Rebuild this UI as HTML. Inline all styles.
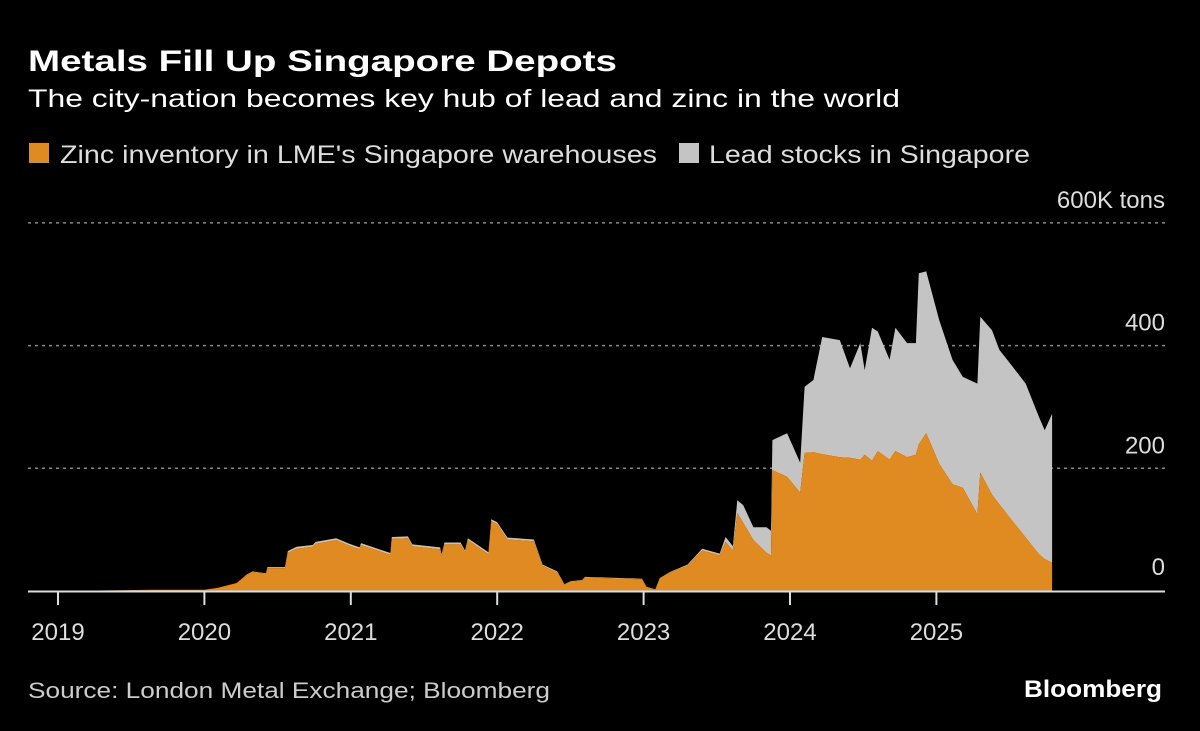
<!DOCTYPE html>
<html><head><meta charset="utf-8"><style>
html,body{margin:0;padding:0;background:#000;}
svg{display:block;font-family:"Liberation Sans",sans-serif;}
</style></head><body>
<svg id="chart" width="1200" height="731" viewBox="0 0 1200 731">
<rect width="1200" height="731" fill="#000"/>
<text x="28" y="71" fill="#fff" font-size="30" font-weight="bold" textLength="589" lengthAdjust="spacingAndGlyphs">Metals Fill Up Singapore Depots</text>
<text x="28" y="107" fill="#fff" font-size="25" textLength="872" lengthAdjust="spacingAndGlyphs">The city-nation becomes key hub of lead and zinc in the world</text>
<g>
<rect x="29" y="143" width="20" height="20" fill="#E08B22"/>
<text x="60" y="163" fill="#ddd" font-size="25" textLength="597" lengthAdjust="spacingAndGlyphs">Zinc inventory in LME's Singapore warehouses</text>
<rect x="679" y="143" width="20" height="20" fill="#C4C4C4"/>
<text x="709" y="163" fill="#ddd" font-size="25" textLength="321" lengthAdjust="spacingAndGlyphs">Lead stocks in Singapore</text>
</g>
<g id="grid"></g>
<g id="areas"></g>
<g id="axis"></g>
<text x="28" y="698" fill="#ccc" font-size="22" textLength="522" lengthAdjust="spacingAndGlyphs">Source: London Metal Exchange; Bloomberg</text>
<text x="1162" y="697" fill="#fff" font-size="24" font-weight="bold" text-anchor="end" textLength="138" lengthAdjust="spacingAndGlyphs">Bloomberg</text>
</svg>
<script>
const dates=[2019.0,2019.65,2020.0,2020.09,2020.22,2020.29,2020.33,2020.42,2020.43,2020.55,2020.57,2020.63,2020.74,2020.76,2020.9,2020.99,2021.06,2021.07,2021.27,2021.28,2021.39,2021.42,2021.61,2021.62,2021.64,2021.75,2021.78,2021.8,2021.94,2021.96,2022.0,2022.07,2022.25,2022.31,2022.41,2022.46,2022.5,2022.58,2022.6,2022.99,2023.02,2023.08,2023.11,2023.18,2023.3,2023.4,2023.52,2023.56,2023.61,2023.64,2023.68,2023.75,2023.84,2023.87,2023.88,2023.98,2024.07,2024.1,2024.16,2024.22,2024.34,2024.41,2024.48,2024.51,2024.56,2024.6,2024.68,2024.72,2024.8,2024.86,2024.88,2024.93,2025.02,2025.11,2025.18,2025.28,2025.3,2025.38,2025.43,2025.52,2025.61,2025.7,2025.74,2025.79];
const zinc=[0,2,2,5,13,26,31,28,37,37,62,69,72,77,83,74,68,75,59,85,86,73,68,57,76,76,63,83,60,114,109,84,81,41,30,10,15,17,22,19,6,2,20,30,41,66,58,80,66,127,111,83,62,58,197,186,160,225,226,223,218,217,214,222,212,228,214,228,218,222,239,257,207,174,168,125,193,157,141,114,87,60,52,46];
const lead=[0,0,0,0,0,1,1,1,2,2,3,3,3,3,3,3,3,3,3,3,3,3,3,3,3,3,3,3,3,3,3,3,3,2,2,1,1,1,1,1,1,1,1,1,2,3,3,8,7,21,29,21,42,40,49,71,49,108,118,191,191,146,190,138,217,195,163,201,186,182,279,264,234,203,181,213,254,268,252,252,251,224,210,243];
const yTicks=[0,200,400,600];
const yLabels=["0","200","400","600K tons"];
const xTicks=[2019,2020,2021,2022,2023,2024,2025];
const NS="http://www.w3.org/2000/svg";
const X=d=>58+(d-2019)*146.4;
const Y=v=>591-v*0.6135;
const grid=document.getElementById('grid'),areas=document.getElementById('areas'),axis=document.getElementById('axis');
yTicks.forEach((t,i)=>{
  if(t>0){const l=document.createElementNS(NS,'line');
  
  
  l.setAttribute('x1',28);l.setAttribute('x2',1165);l.setAttribute('y1',Y(t));l.setAttribute('y2',Y(t));
  l.setAttribute('stroke','#888');l.setAttribute('stroke-width','1.5');l.setAttribute('stroke-dasharray','3,4');grid.appendChild(l);}
  const tx=document.createElementNS(NS,'text');
  
  
  tx.setAttribute('x',1165);tx.setAttribute('y',Y(t)-(t>0?15:16));tx.setAttribute('text-anchor','end');
  tx.setAttribute('fill','#ddd');tx.setAttribute('font-size','24');tx.textContent=yLabels[i];grid.appendChild(tx);
});
function area(lower,upper,fill,name){
  let d='M'+X(dates[0])+','+Y(upper[0]);
  for(let i=1;i<dates.length;i++)d+='L'+X(dates[i]).toFixed(1)+','+Y(upper[i]).toFixed(1);
  for(let i=dates.length-1;i>=0;i--)d+='L'+X(dates[i]).toFixed(1)+','+Y(lower[i]).toFixed(1);
  const p=document.createElementNS(NS,'path');
  
  
  p.setAttribute('d',d+'Z');p.setAttribute('fill',fill);areas.appendChild(p);
}
const zeros=dates.map(()=>0);
const total=zinc.map((z,i)=>z+lead[i]);
area(zinc,total,'#C4C4C4','lead-area');
area(zeros,zinc,'#E08B22','zinc-area');
const base=document.createElementNS(NS,'line');


base.setAttribute('x1',28);base.setAttribute('x2',1165);base.setAttribute('y1',591.5);base.setAttribute('y2',591.5);
base.setAttribute('stroke','#ddd');base.setAttribute('stroke-width','2');axis.appendChild(base);
xTicks.forEach(t=>{
  const l=document.createElementNS(NS,'line');
  
  
  l.setAttribute('x1',X(t));l.setAttribute('x2',X(t));l.setAttribute('y1',591);l.setAttribute('y2',605);
  l.setAttribute('stroke','#ddd');l.setAttribute('stroke-width','2');axis.appendChild(l);
  const tx=document.createElementNS(NS,'text');
  
  
  tx.setAttribute('x',X(t));tx.setAttribute('y',640);tx.setAttribute('text-anchor','middle');
  tx.setAttribute('fill','#ddd');tx.setAttribute('font-size','24');tx.textContent=t;axis.appendChild(tx);
});
</script>
</body></html>
